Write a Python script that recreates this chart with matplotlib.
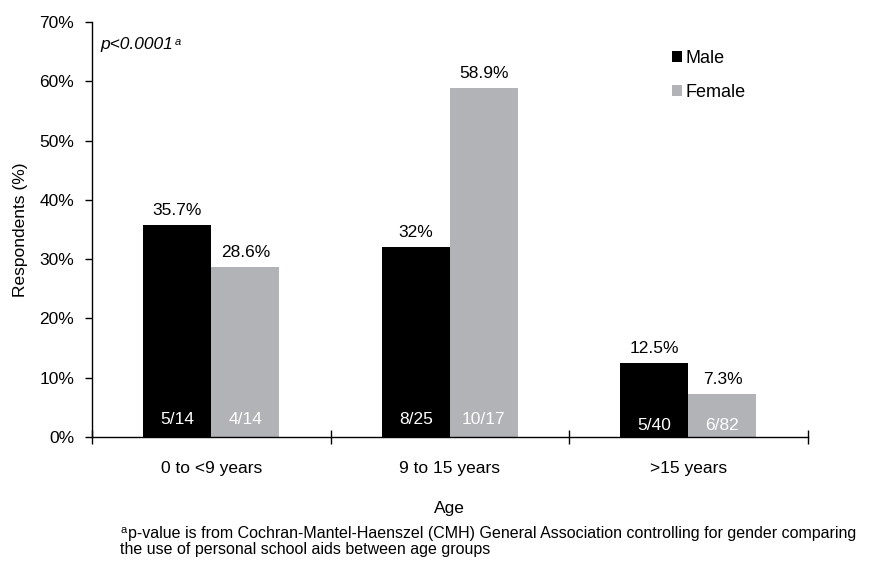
import matplotlib
matplotlib.use("Agg")
import matplotlib.pyplot as plt
import numpy as np
from matplotlib.ticker import FixedLocator, PercentFormatter

plt.rcParams['font.family'] = ['Liberation Sans', 'DejaVu Sans']

# data
categories = ["0 to <9 years", "9 to 15 years", ">15 years"]
male = [35.7, 32.0, 12.5]
female = [28.6, 58.9, 7.3]
male_labels = ["35.7%", "32%", "12.5%"]
female_labels = ["28.6%", "58.9%", "7.3%"]
male_counts = ["5/14", "8/25", "5/40"]
female_counts = ["4/14", "10/17", "6/82"]

male_color = "#000000"
female_color = "#b1b3b6"
fs = 12.5

fig = plt.figure(figsize=(8.77, 5.66), dpi=100)
ax = fig.add_axes([0.105, 0.228, 0.816, 0.733])

x = np.arange(len(categories))
w = 0.285
ax.bar(x - w / 2, male, w, color=male_color, label="Male")
ax.bar(x + w / 2, female, w, color=female_color, label="Female")

# value labels above bars, counts inside at the base
for i in range(len(categories)):
    ax.text(x[i] - w / 2, male[i] + 1.2, male_labels[i], ha="center", va="bottom", fontsize=fs)
    ax.text(x[i] + w / 2, female[i] + 1.2, female_labels[i], ha="center", va="bottom", fontsize=fs)
    yc = 2.9 if i < 2 else 2.0
    ax.text(x[i] - w / 2, yc, male_counts[i], ha="center", va="center", fontsize=fs, color="white")
    ax.text(x[i] + w / 2, yc, female_counts[i], ha="center", va="center", fontsize=fs, color="white")

ax.set_xlim(-0.5, len(categories) - 0.5)
ax.set_ylim(0, 70)
ax.set_yticks(np.arange(0, 71, 10))
ax.yaxis.set_major_formatter(PercentFormatter(decimals=0))
ax.set_xticks(x)
ax.set_xticklabels(categories)
ax.xaxis.set_minor_locator(FixedLocator(np.arange(-0.5, len(categories), 1.0)))
ax.tick_params(axis="x", which="major", length=0, pad=17, labelsize=fs)
ax.tick_params(axis="x", which="minor", direction="inout", length=10, width=1)
ax.tick_params(axis="y", which="major", direction="out", length=5, width=1, labelsize=fs, pad=8)

for s in ["top", "right"]:
    ax.spines[s].set_visible(False)
ax.spines["left"].set_linewidth(1)
ax.spines["bottom"].set_linewidth(1)

ax.set_ylabel("Respondents (%)", fontsize=fs, labelpad=8)
ax.set_xlabel("Age", fontsize=fs, labelpad=18)

ptext = ax.text(0.012, 0.963, "p<0.0001", transform=ax.transAxes, fontsize=12.5, style="italic",
                va="top", ha="left")
ax.annotate("a", xy=(1, 1), xycoords=ptext, xytext=(1, 0), textcoords="offset points",
            fontsize=8, style="italic", va="top", ha="left")

leg = ax.legend(loc="upper left", bbox_to_anchor=(0.787, 0.972), frameon=False, fontsize=13,
                handlelength=0.6, handleheight=0.6, handletextpad=0.15, labelspacing=0.95)

fig.text(0.137, 0.054, "a", fontsize=8, va="bottom", ha="left")
fig.text(0.146, 0.045, "p-value is from Cochran-Mantel-Haenszel (CMH) General Association controlling for gender comparing",
         fontsize=11.5, va="bottom", ha="left")
fig.text(0.137, 0.016, "the use of personal school aids between age groups", fontsize=11.5, va="bottom", ha="left")

fig.savefig("out.png", dpi=100)
